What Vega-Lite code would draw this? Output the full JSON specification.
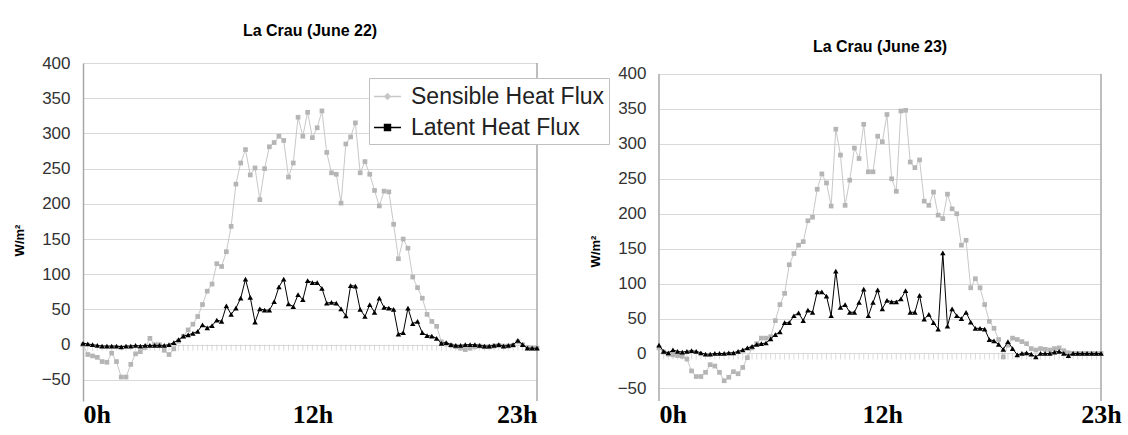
{
  "$schema": "https://vega.github.io/schema/vega-lite/v6.json",
  "padding": {"left": 13, "top": 23, "right": 0, "bottom": 0},
  "spacing": 49,
  "config": {
    "view": {"stroke": null},
    "font": "Liberation Sans",
    "title": {"font": "Liberation Sans", "fontSize": 16, "fontWeight": "bold", "color": "#000000", "anchor": "middle"}
  },
  "datasets": {
    "d22": [
      {"t":0,"S":0,"L":2},{"t":1,"S":-14,"L":1},{"t":2,"S":-16,"L":0},{"t":3,"S":-18,"L":-1},{"t":4,"S":-24,"L":-2},{"t":5,"S":-25,"L":-2},{"t":6,"S":-12,"L":-2},{"t":7,"S":-24,"L":-2},{"t":8,"S":-46,"L":-3},{"t":9,"S":-46,"L":-2},
      {"t":10,"S":-28,"L":-2},{"t":11,"S":-13,"L":-1},{"t":12,"S":-10,"L":-2},{"t":13,"S":-4,"L":-1},{"t":14,"S":9,"L":-1},{"t":15,"S":0,"L":-1},{"t":16,"S":0,"L":-1},{"t":17,"S":-8,"L":-1},{"t":18,"S":-14,"L":0},{"t":19,"S":-6,"L":3},
      {"t":20,"S":5,"L":7},{"t":21,"S":12,"L":12},{"t":22,"S":21,"L":14},{"t":23,"S":29,"L":16},{"t":24,"S":40,"L":19},{"t":25,"S":57,"L":28},{"t":26,"S":76,"L":24},{"t":27,"S":86,"L":27},{"t":28,"S":115,"L":35},{"t":29,"S":111,"L":33},
      {"t":30,"S":132,"L":55},{"t":31,"S":168,"L":43},{"t":32,"S":228,"L":52},{"t":33,"S":258,"L":66},{"t":34,"S":277,"L":93},{"t":35,"S":241,"L":67},{"t":36,"S":251,"L":32},{"t":37,"S":206,"L":51},{"t":38,"S":250,"L":49},{"t":39,"S":281,"L":49},
      {"t":40,"S":287,"L":61},{"t":41,"S":296,"L":82},{"t":42,"S":290,"L":93},{"t":43,"S":238,"L":58},{"t":44,"S":258,"L":54},{"t":45,"S":323,"L":71},{"t":46,"S":296,"L":64},{"t":47,"S":330,"L":91},{"t":48,"S":294,"L":88},{"t":49,"S":308,"L":88},
      {"t":50,"S":332,"L":80},{"t":51,"S":273,"L":59},{"t":52,"S":244,"L":60},{"t":53,"S":242,"L":59},{"t":54,"S":201,"L":51},{"t":55,"S":285,"L":41},{"t":56,"S":295,"L":84},{"t":57,"S":315,"L":83},{"t":58,"S":244,"L":50},{"t":59,"S":260,"L":40},
      {"t":60,"S":242,"L":57},{"t":61,"S":219,"L":46},{"t":62,"S":197,"L":66},{"t":63,"S":218,"L":53},{"t":64,"S":217,"L":52},{"t":65,"S":171,"L":50},{"t":66,"S":122,"L":15},{"t":67,"S":150,"L":17},{"t":68,"S":137,"L":52},{"t":69,"S":96,"L":30},
      {"t":70,"S":81,"L":33},{"t":71,"S":66,"L":17},{"t":72,"S":43,"L":13},{"t":73,"S":33,"L":12},{"t":74,"S":26,"L":9},{"t":75,"S":4,"L":2},{"t":76,"S":1,"L":3},{"t":77,"S":-1,"L":0},{"t":78,"S":-3,"L":-1},{"t":79,"S":-5,"L":-1},
      {"t":80,"S":-7,"L":0},{"t":81,"S":-5,"L":0},{"t":82,"S":-3,"L":0},{"t":83,"S":-2,"L":-1},{"t":84,"S":-3,"L":-2},{"t":85,"S":-3,"L":-2},{"t":86,"S":-2,"L":-1},{"t":87,"S":-1,"L":0},{"t":88,"S":-2,"L":-2},{"t":89,"S":-2,"L":-1},
      {"t":90,"S":-1,"L":0},{"t":91,"S":4,"L":6},{"t":92,"S":0,"L":0},{"t":93,"S":-4,"L":-5},{"t":94,"S":-5,"L":-5},{"t":95,"S":-5,"L":-5}
    ],
    "d23": [
      {"t":0,"S":8,"L":12},{"t":1,"S":2,"L":3},{"t":2,"S":-1,"L":1},{"t":3,"S":-2,"L":5},{"t":4,"S":-3,"L":3},{"t":5,"S":-4,"L":2},{"t":6,"S":-8,"L":3},{"t":7,"S":-25,"L":4},{"t":8,"S":-33,"L":3},{"t":9,"S":-33,"L":1},
      {"t":10,"S":-27,"L":-1},{"t":11,"S":-16,"L":-1},{"t":12,"S":-18,"L":0},{"t":13,"S":-27,"L":0},{"t":14,"S":-39,"L":0},{"t":15,"S":-34,"L":1},{"t":16,"S":-26,"L":1},{"t":17,"S":-29,"L":3},{"t":18,"S":-20,"L":5},{"t":19,"S":-6,"L":8},
      {"t":20,"S":8,"L":10},{"t":21,"S":14,"L":13},{"t":22,"S":22,"L":14},{"t":23,"S":22,"L":15},{"t":24,"S":24,"L":21},{"t":25,"S":47,"L":27},{"t":26,"S":70,"L":31},{"t":27,"S":86,"L":44},{"t":28,"S":127,"L":44},{"t":29,"S":143,"L":54},
      {"t":30,"S":155,"L":58},{"t":31,"S":160,"L":47},{"t":32,"S":190,"L":62},{"t":33,"S":195,"L":59},{"t":34,"S":235,"L":88},{"t":35,"S":257,"L":88},{"t":36,"S":244,"L":82},{"t":37,"S":211,"L":54},{"t":38,"S":321,"L":118},{"t":39,"S":284,"L":66},
      {"t":40,"S":212,"L":70},{"t":41,"S":248,"L":59},{"t":42,"S":294,"L":59},{"t":43,"S":279,"L":73},{"t":44,"S":328,"L":92},{"t":45,"S":260,"L":54},{"t":46,"S":260,"L":73},{"t":47,"S":311,"L":91},{"t":48,"S":303,"L":64},{"t":49,"S":342,"L":76},
      {"t":50,"S":250,"L":74},{"t":51,"S":232,"L":74},{"t":52,"S":347,"L":78},{"t":53,"S":348,"L":90},{"t":54,"S":274,"L":59},{"t":55,"S":266,"L":59},{"t":56,"S":277,"L":83},{"t":57,"S":218,"L":49},{"t":58,"S":212,"L":56},{"t":59,"S":231,"L":44},
      {"t":60,"S":198,"L":35},{"t":61,"S":193,"L":144},{"t":62,"S":228,"L":39},{"t":63,"S":207,"L":64},{"t":64,"S":200,"L":54},{"t":65,"S":155,"L":50},{"t":66,"S":162,"L":59},{"t":67,"S":94,"L":45},{"t":68,"S":107,"L":36},{"t":69,"S":94,"L":36},
      {"t":70,"S":70,"L":35},{"t":71,"S":46,"L":20},{"t":72,"S":36,"L":18},{"t":73,"S":20,"L":13},{"t":74,"S":-5,"L":6},{"t":75,"S":12,"L":17},{"t":76,"S":22,"L":7},{"t":77,"S":20,"L":-2},{"t":78,"S":17,"L":0},{"t":79,"S":14,"L":1},
      {"t":80,"S":7,"L":-1},{"t":81,"S":5,"L":-5},{"t":82,"S":7,"L":0},{"t":83,"S":6,"L":0},{"t":84,"S":5,"L":0},{"t":85,"S":7,"L":2},{"t":86,"S":8,"L":3},{"t":87,"S":4,"L":0},{"t":88,"S":1,"L":-3},{"t":89,"S":0,"L":0},
      {"t":90,"S":0,"L":0},{"t":91,"S":0,"L":0},{"t":92,"S":0,"L":0},{"t":93,"S":0,"L":0},{"t":94,"S":0,"L":0},{"t":95,"S":0,"L":0}
    ]
  },
  "hconcat": [
    {
      "width": 454,
      "height": 338,
      "title": {"text": "La Crau (June 22)", "offset": 15},
      "data": {"name": "d22"},
      "transform": [{"fold": ["S", "L"], "as": ["k", "v"]}],
      "encoding": {
        "x": {"field": "t", "type": "quantitative", "scale": {"domain": [0, 95], "nice": false, "zero": false},
          "axis": {"values": [0, 48, 95], "labelExpr": "datum.value == 0 ? '0h' : datum.value == 48 ? '12h' : '23h'", "title": null, "grid": false, "ticks": false, "domain": false, "labelFont": "Liberation Serif", "labelFontSize": 26, "labelFontWeight": "bold", "labelColor": "#000000", "labelFlush": true, "labelPadding": 0}},
        "y": {"field": "v", "type": "quantitative", "scale": {"domain": [-80, 400], "nice": false, "zero": false},
          "axis": {"values": [-50, 0, 50, 100, 150, 200, 250, 300, 350, 400], "title": "W/m²", "titleFontSize": 13, "titleFontWeight": "bold", "titleColor": "#000000", "titlePadding": 15, "titleY": 177, "labelFontSize": 17, "labelColor": "#333333", "labelPadding": 13, "ticks": false, "grid": true, "gridColor": "#d9d9d9", "domainColor": "#a8a8a8", "domainWidth": 1.5}}
      },
      "layer": [
        {"transform": [{"filter": "datum.k == 'S'"}], "mark": {"type": "tick", "orient": "vertical", "color": "#cccccc", "size": 6, "thickness": 1, "yOffset": 3}, "encoding": {"y": {"datum": 0}}},
        {"transform": [{"filter": "datum.t == 0 && datum.k == 'S'"}], "mark": {"type": "rule", "color": "#a8a8a8", "strokeWidth": 1.5}, "encoding": {"x": {"datum": 95}, "y": {"datum": -80}, "y2": {"datum": 400}}},
        {"transform": [{"filter": "datum.k == 'S'"}], "mark": {"type": "line", "strokeWidth": 1},
          "encoding": {"color": {"field": "k", "type": "nominal", "scale": {"domain": ["S", "L"], "range": ["#c8c8c8", "#000000"]},
            "legend": {"orient": "none", "legendX": 286, "legendY": 15, "title": null, "direction": "vertical", "padding": 4, "strokeColor": "#c0c0c0", "fillColor": "#ffffff", "labelFontSize": 23, "labelFont": "Liberation Sans", "labelColor": "#222222", "labelOffset": 9, "labelLimit": 400, "symbolSize": 729, "symbolStrokeWidth": 1.5, "rowPadding": 4, "symbolType": "M-1,0H1",
              "labelExpr": "datum.value == 'S' ? 'Sensible Heat Flux' : 'Latent Heat Flux'",
              "encode": {"symbols": {"update": {"shape": {"signal": "datum.value == 'S' ? 'M-1,0H1M0,-0.2L0.2,0L0,0.2L-0.2,0Z' : 'M-1,0H1M-0.22,-0.22H0.22V0.22H-0.22Z'"}, "fill": {"signal": "datum.value == 'S' ? '#c0c0c0' : '#000000'"}, "stroke": {"signal": "datum.value == 'S' ? '#c0c0c0' : '#000000'"}}}}}}}},
        {"transform": [{"filter": "datum.k == 'S'"}], "mark": {"type": "square", "color": "#b5b5b5", "size": 22, "opacity": 1}},
        {"transform": [{"filter": "datum.k == 'L'"}], "mark": {"type": "line", "strokeWidth": 1},
          "encoding": {"color": {"field": "k", "type": "nominal", "scale": {"domain": ["S", "L"], "range": ["#c8c8c8", "#000000"]}}}},
        {"transform": [{"filter": "datum.k == 'L'"}], "mark": {"type": "point", "shape": "triangle-up", "filled": true, "color": "#000000", "size": 30, "opacity": 1}}
      ]
    },
    {
      "width": 442,
      "height": 338,
      "title": {"text": "La Crau (June 23)", "offset": 8},
      "data": {"name": "d23"},
      "transform": [{"fold": ["S", "L"], "as": ["k", "v"]}],
      "encoding": {
        "x": {"field": "t", "type": "quantitative", "scale": {"domain": [0, 95], "nice": false, "zero": false},
          "axis": {"values": [0, 48, 95], "labelExpr": "datum.value == 0 ? '0h' : datum.value == 48 ? '12h' : '23h'", "title": null, "grid": false, "ticks": false, "domain": false, "labelFont": "Liberation Serif", "labelFontSize": 26, "labelFontWeight": "bold", "labelColor": "#000000", "labelAlign": {"condition": {"test": "datum.value == 0", "value": "left"}, "value": "center"}, "labelPadding": 0}},
        "y": {"field": "v", "type": "quantitative", "scale": {"domain": [-68, 415.7], "nice": false, "zero": false},
          "axis": {"values": [-50, 0, 50, 100, 150, 200, 250, 300, 350, 400], "title": "W/m²", "titleFontSize": 13, "titleFontWeight": "bold", "titleColor": "#000000", "titlePadding": 15, "titleY": 188, "labelFontSize": 17, "labelColor": "#333333", "labelPadding": 13, "ticks": false, "grid": true, "gridColor": "#d9d9d9", "domain": false}}
      },
      "layer": [
        {"transform": [{"filter": "datum.k == 'S'"}], "mark": {"type": "tick", "orient": "vertical", "color": "#cccccc", "size": 6, "thickness": 1, "yOffset": 3}, "encoding": {"y": {"datum": 0}}},
        {"transform": [{"filter": "datum.t == 0 && datum.k == 'S'"}], "mark": {"type": "rule", "color": "#a8a8a8", "strokeWidth": 1.5}, "encoding": {"x": {"datum": 95}, "y": {"datum": -68}, "y2": {"datum": 400}}},
        {"transform": [{"filter": "datum.t == 0 && datum.k == 'S'"}], "mark": {"type": "rule", "color": "#a8a8a8", "strokeWidth": 1.5}, "encoding": {"x": {"datum": 0}, "y": {"datum": -68}, "y2": {"datum": 400}}},
        {"transform": [{"filter": "datum.k == 'S'"}], "mark": {"type": "line", "strokeWidth": 1},
          "encoding": {"color": {"field": "k", "type": "nominal", "scale": {"domain": ["S", "L"], "range": ["#c8c8c8", "#000000"]}}}},
        {"transform": [{"filter": "datum.k == 'S'"}], "mark": {"type": "square", "color": "#b5b5b5", "size": 22, "opacity": 1}},
        {"transform": [{"filter": "datum.k == 'L'"}], "mark": {"type": "line", "strokeWidth": 1},
          "encoding": {"color": {"field": "k", "type": "nominal", "scale": {"domain": ["S", "L"], "range": ["#c8c8c8", "#000000"]}}}},
        {"transform": [{"filter": "datum.k == 'L'"}], "mark": {"type": "point", "shape": "triangle-up", "filled": true, "color": "#000000", "size": 30, "opacity": 1}}
      ]
    }
  ]
}
